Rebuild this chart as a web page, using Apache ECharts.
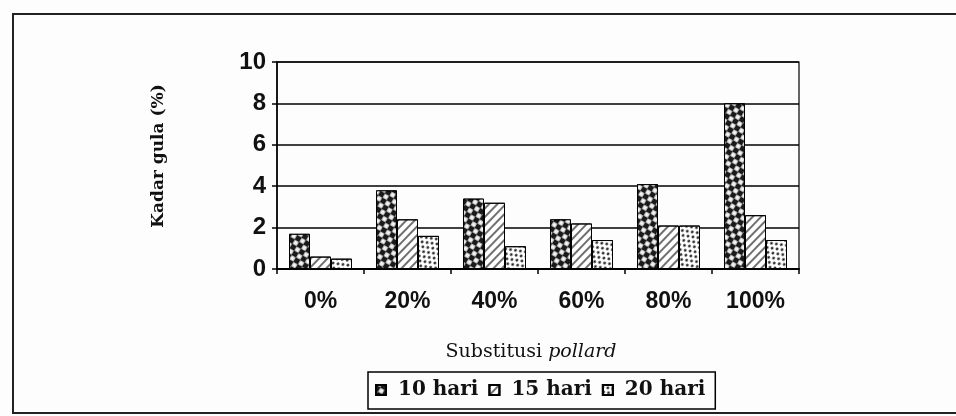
<!DOCTYPE html>
<html>
<head>
<meta charset="utf-8">
<script src="https://cdn.jsdelivr.net/npm/echarts@6/dist/echarts.min.js"></script>
<style>
html,body{margin:0;padding:0;background:#fdfdfd;}
#chart{width:956px;height:416px;}
</style>
</head>
<body>
<div id="chart"></div>
<script>
var categories = ['0%', '20%', '40%', '60%', '80%', '100%'];
var seriesNames = ['10 hari', '15 hari', '20 hari'];
var hari10 = [1.7, 3.8, 3.4, 2.4, 4.1, 8.0];
var hari15 = [0.6, 2.4, 3.2, 2.2, 2.1, 2.6];
var hari20 = [0.5, 1.6, 1.1, 1.4, 2.1, 1.4];
var yTicks = [0, 2, 4, 6, 8, 10];

var chart = echarts.init(document.getElementById('chart'));

var decals = [
  {symbol: 'rect', color: '#f2f2f2', dashArrayX: [[5, 5], [0, 5, 5, 0]], dashArrayY: [5, 0], symbolSize: 0.9},
  {symbol: 'rect', color: '#111', dashArrayX: [[1, 0]], dashArrayY: [2, 4], rotation: -0.8},
  {symbol: 'circle', color: '#111', dashArrayX: [[3, 3], [0, 3, 3, 0]], dashArrayY: [3, 1], symbolSize: 0.9}
];
var bases = ['#1a1a1a', '#ffffff', '#ffffff'];
var dataSets = [hari10, hari15, hari20];

var series = seriesNames.map(function (n, i) {
  return {
    name: n,
    type: 'bar',
    data: dataSets[i],
    barWidth: 21,
    barGap: '0%',
    itemStyle: {color: bases[i], borderColor: '#000', borderWidth: 1, decal: decals[i]}
  };
});

chart.setOption({
  animation: false,
  backgroundColor: '#fdfdfd',
  aria: {enabled: true, decal: {show: true}},
  grid: {left: 277, right: 157, top: 62, bottom: 147, show: true, borderColor: '#000', borderWidth: 1.2, backgroundColor: 'transparent'},
  xAxis: {
    type: 'category',
    data: categories,
    axisLine: {lineStyle: {color: '#000', width: 2}},
    axisTick: {show: true, length: 5, lineStyle: {color: '#000', width: 1.5}},
    axisLabel: {color: '#111', fontFamily: 'Liberation Sans', fontWeight: 'bold', fontSize: 23, margin: 21},
    name: '{a|Substitusi }{b|pollard}',
    nameLocation: 'middle',
    nameGap: 74,
    nameTextStyle: {
      padding: [0, 14, 0, 0],
      rich: {
        a: {fontFamily: 'DejaVu Serif', fontSize: 19, color: '#111'},
        b: {fontFamily: 'DejaVu Serif', fontStyle: 'italic', fontSize: 19, color: '#111'}
      }
    }
  },
  yAxis: {
    type: 'value',
    min: 0, max: 10, interval: 2,
    axisLine: {show: true, lineStyle: {color: '#000', width: 1.5}},
    axisTick: {show: true, length: 5, lineStyle: {color: '#000', width: 1.5}},
    splitLine: {show: true, lineStyle: {color: '#000', width: 1.5}},
    axisLabel: {
      color: '#111', fontFamily: 'Liberation Sans', fontWeight: 'bold', fontSize: 24, margin: 11,
      formatter: function (v) { return yTicks.indexOf(v) >= 0 ? String(v) : ''; }
    },
    name: 'Kadar gula (%)',
    nameLocation: 'middle',
    nameRotate: 90,
    nameGap: 110,
    nameTextStyle: {fontFamily: 'DejaVu Serif', fontWeight: 'bold', fontSize: 17, color: '#111', padding: [0, 0, 0, 19]}
  },
  legend: {
    data: seriesNames,
    left: 368, top: 372,
    orient: 'horizontal',
    itemWidth: 10, itemHeight: 10, itemGap: 10,
    icon: 'rect',
    padding: [8, 10, 9, 7],
    borderColor: '#000', borderWidth: 1.5,
    textStyle: {fontFamily: 'DejaVu Serif', fontWeight: 'bold', fontSize: 20, color: '#111', padding: [0, 0, 0, 7]}
  },
  graphic: [
    {type: 'rect', shape: {x: 13, y: 14, width: 960, height: 399}, style: {fill: 'none', stroke: '#222', lineWidth: 2}, silent: true}
  ],
  series: series
});
</script>
</body>
</html>
